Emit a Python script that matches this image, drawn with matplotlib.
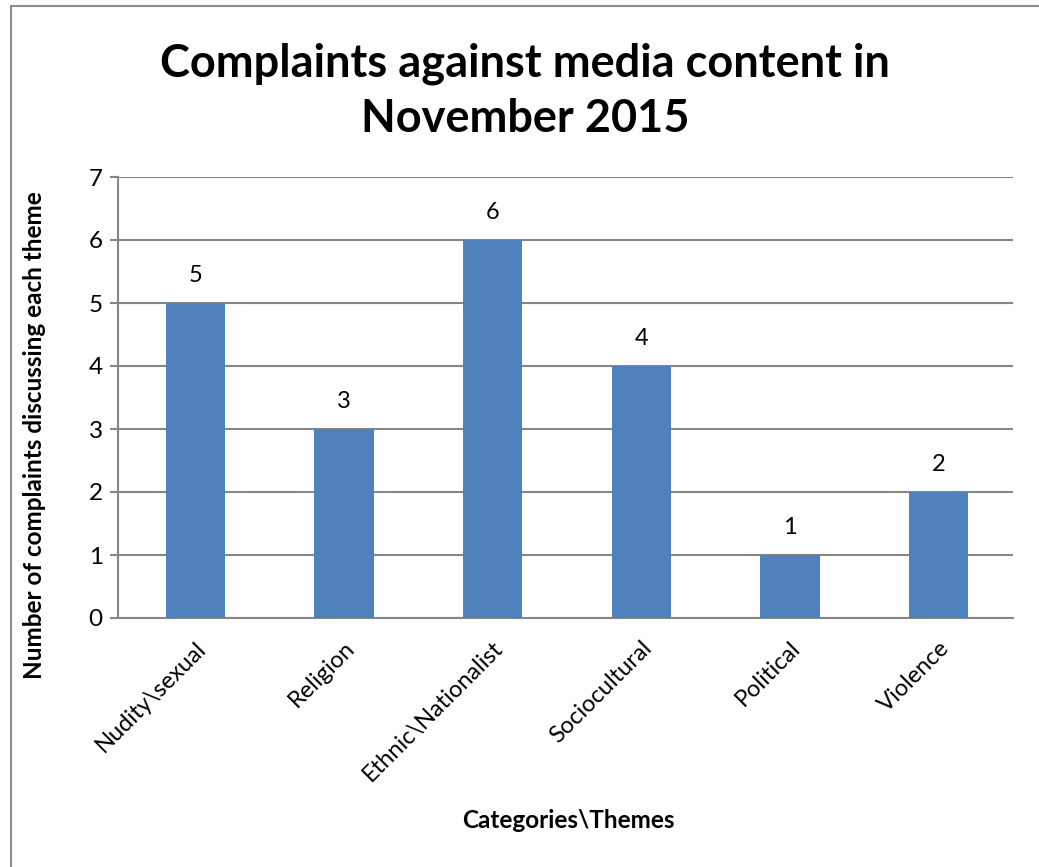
import matplotlib.pyplot as plt
from matplotlib.lines import Line2D

# chart data
categories = ["Nudity\\sexual", "Religion", "Ethnic\\Nationalist",
              "Sociocultural", "Political", "Violence"]
complaints = [5, 3, 6, 4, 1, 2]
y_ticks = [0, 1, 2, 3, 4, 5, 6, 7]

BAR_COLOR = "#4F81BD"
GRID_COLOR = "#868686"

plt.rcParams["font.family"] = ["Lato", "DejaVu Sans"]

W, H = 1039, 867
fig = plt.figure(figsize=(W / 100, H / 100), dpi=100)

# chart frame (left and top edges visible)
fig.add_artist(Line2D([11 / W, 11 / W], [0, 1 - 6 / H], transform=fig.transFigure,
                      color="#8c8c8c", lw=1.5))
fig.add_artist(Line2D([11 / W, 1], [1 - 6 / H, 1 - 6 / H], transform=fig.transFigure,
                      color="#8c8c8c", lw=1.5))

ax = fig.add_axes([118 / W, 1 - 618 / H, 895 / W, 441 / H])
x = range(len(categories))
bars = ax.bar(x, complaints, width=0.4, color=BAR_COLOR, zorder=3)

ax.set_xlim(-0.52, len(categories) - 0.5)
ax.set_ylim(0, 7)
ax.set_yticks(y_ticks)
ax.yaxis.grid(True, color=GRID_COLOR, lw=1.5, zorder=0)
ax.set_axisbelow(True)

for side in ("top", "right"):
    ax.spines[side].set_visible(False)
for side in ("left", "bottom"):
    ax.spines[side].set_color(GRID_COLOR)
    ax.spines[side].set_linewidth(1.5)

ax.tick_params(axis="y", length=6, width=1.5, color=GRID_COLOR, labelsize=17.5, pad=5)
ax.tick_params(axis="x", length=0, labelsize=17, pad=14)
ax.set_xticks(list(x))
ax.set_xticklabels(categories, rotation=45, ha="right", rotation_mode="anchor")

for b, v in zip(bars, complaints):
    ax.annotate(str(v), (b.get_x() + b.get_width() / 2, v), xytext=(0, 20),
                textcoords="offset points", ha="center", va="center", fontsize=17)

fig.text(35 / W, 1 - 435 / H, "Number of complaints discussing each theme",
         rotation=90, ha="center", va="center", fontsize=17.5, fontweight="bold")
fig.text(568 / W, 1 - 821 / H, "Categories\\Themes", ha="center", va="center",
         fontsize=17.5, fontweight="bold")

fig.text(525 / W, 1 - 91 / H, "Complaints against media content in\nNovember 2015",
         ha="center", va="center", fontsize=32.5, fontweight="bold", linespacing=1.38)

fig.savefig("out.png", dpi=100, facecolor="white")
